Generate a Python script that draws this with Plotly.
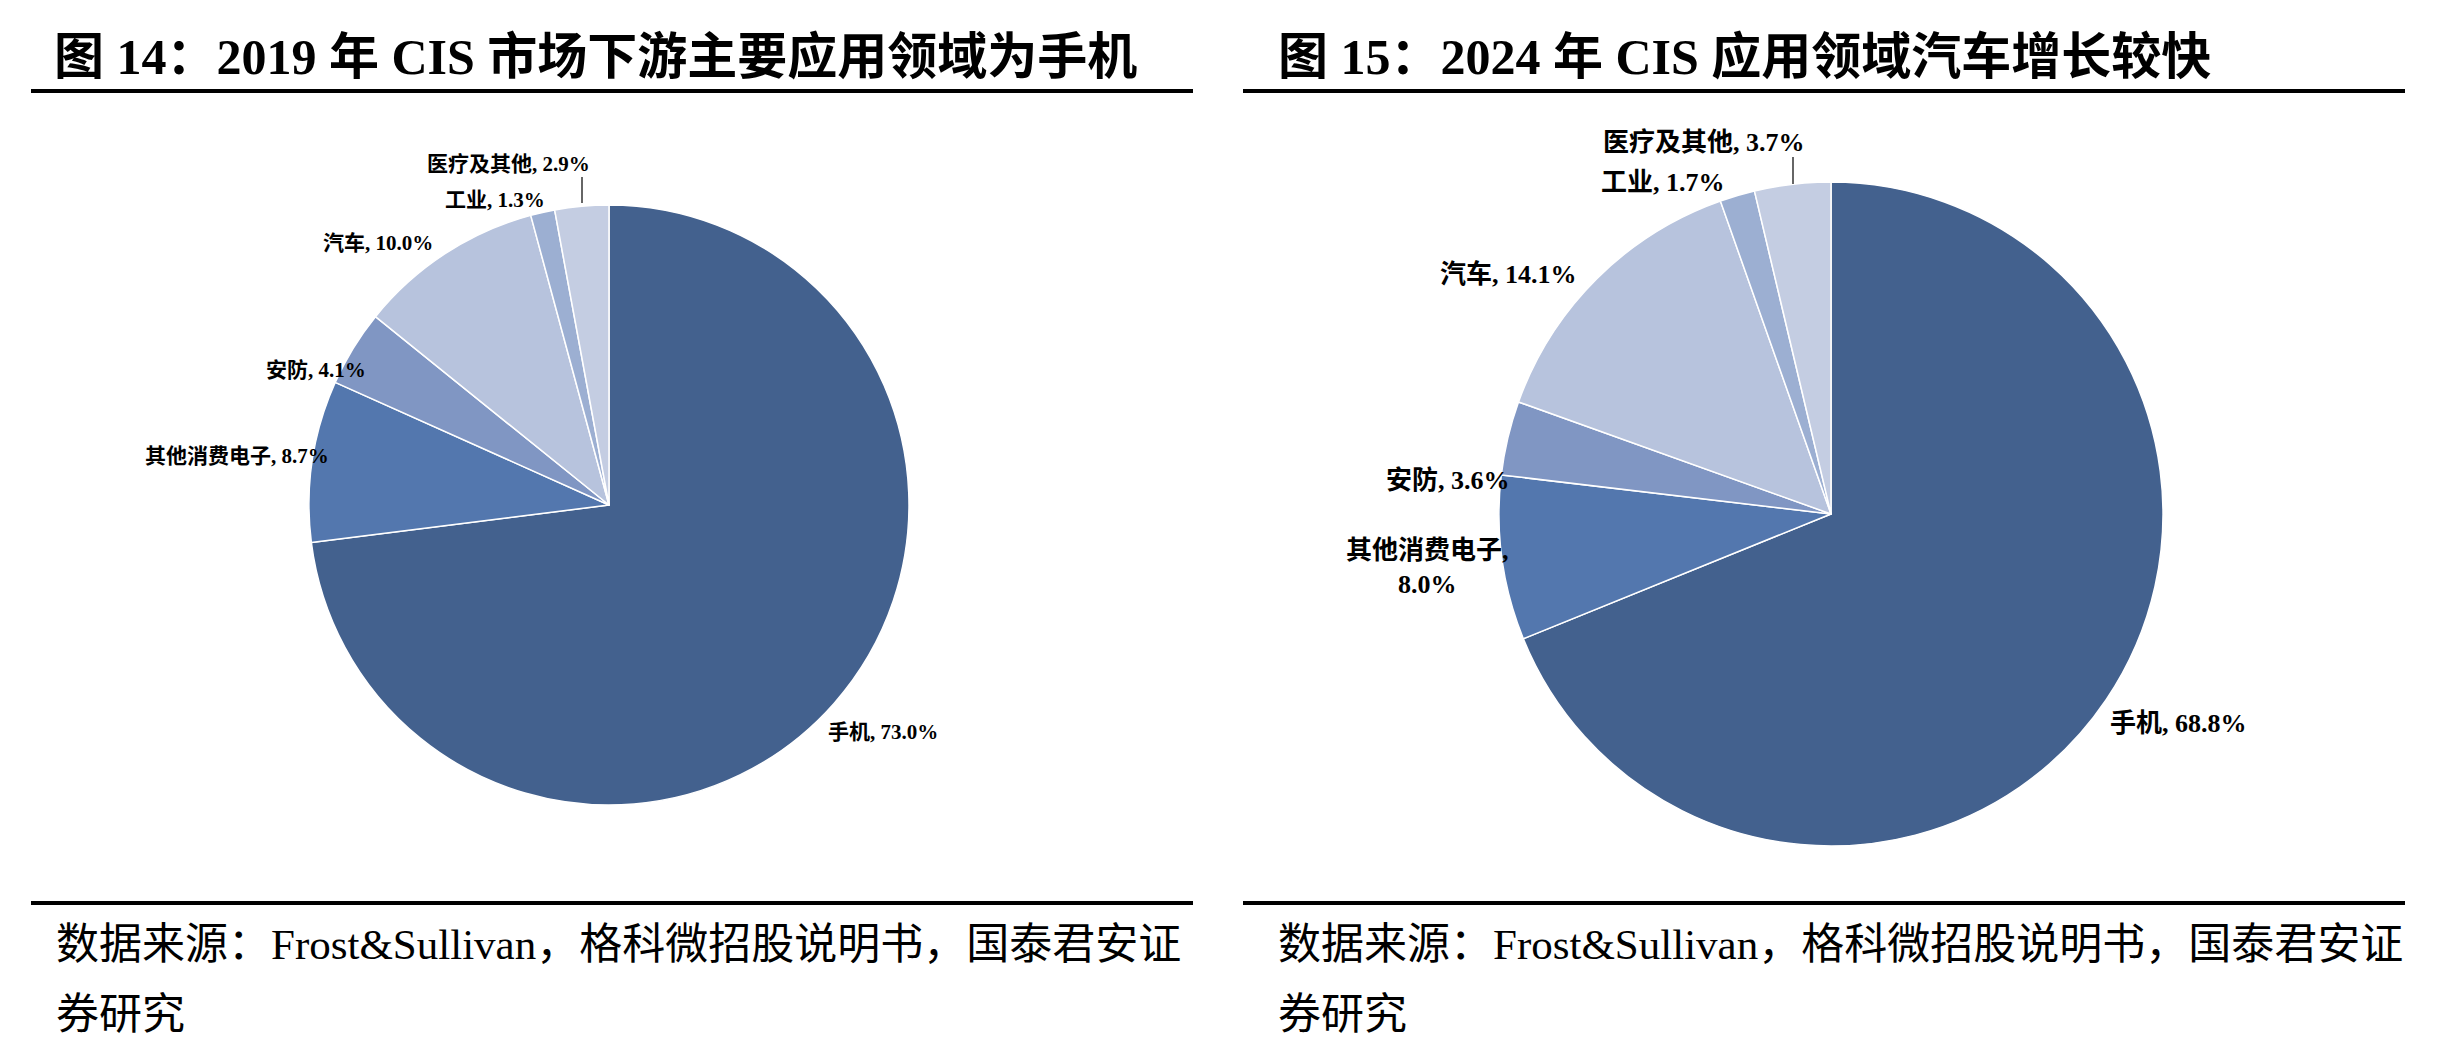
import plotly.graph_objects as go

W, H = 2439, 1055

# ---------------- data ----------------
categories = ["手机", "其他消费电子", "安防", "汽车", "工业", "医疗及其他"]
share_2019 = [73.0, 8.7, 4.1, 10.0, 1.3, 2.9]
share_2024 = [68.8, 8.0, 3.6, 14.1, 1.7, 3.7]

title_left = "图 14：2019 年 CIS 市场下游主要应用领域为手机"
title_right = "图 15：2024 年 CIS 应用领域汽车增长较快"
source_line1 = "数据来源：Frost&Sullivan，格科微招股说明书，国泰君安证"
source_line2 = "券研究"

# ---------------- styling ----------------
slice_colors = ["#43618e", "#5377ae", "#8096c3", "#b7c3dd", "#9cafd2", "#c4cde2"]
SERIF = "Liberation Serif, Noto Sans CJK SC, serif"


def xp(x):
    return x / W


def yp(y):
    return 1 - y / H


def pie_domain(cx, cy, r):
    return dict(x=[xp(cx - r), xp(cx + r)], y=[yp(cy + r), yp(cy - r)])


fig = go.Figure()

fig.add_trace(go.Pie(
    labels=categories, values=share_2019, sort=False, direction="clockwise",
    rotation=0, textinfo="none", hoverinfo="skip", showlegend=False,
    marker=dict(colors=slice_colors, line=dict(color="white", width=1.5)),
    domain=pie_domain(609, 505, 300),
))
fig.add_trace(go.Pie(
    labels=categories, values=share_2024, sort=False, direction="clockwise",
    rotation=0, textinfo="none", hoverinfo="skip", showlegend=False,
    marker=dict(colors=slice_colors, line=dict(color="white", width=1.5)),
    domain=pie_domain(1831, 514, 332),
))

annotations = []

# titles
annotations.append(dict(x=xp(52), y=yp(57), xref="paper", yref="paper",
                        text=title_left, showarrow=False, xanchor="left", yanchor="middle",
                        font=dict(family=SERIF, size=50, color="black", weight="bold")))
annotations.append(dict(x=xp(1276), y=yp(57), xref="paper", yref="paper",
                        text=title_right, showarrow=False, xanchor="left", yanchor="middle",
                        font=dict(family=SERIF, size=50, color="black", weight="bold")))

# sources
for x0 in (54, 1276):
    annotations.append(dict(x=xp(x0), y=yp(944), xref="paper", yref="paper",
                            text=source_line1, showarrow=False, xanchor="left", yanchor="middle",
                            font=dict(family=SERIF, size=43, color="black")))
    annotations.append(dict(x=xp(x0), y=yp(1014), xref="paper", yref="paper",
                            text=source_line2, showarrow=False, xanchor="left", yanchor="middle",
                            font=dict(family=SERIF, size=43, color="black")))

# slice labels (positions in pixels)
label_pos_left = [(883, 732), (237, 456), (316, 370), (378, 243), (495, 200), (508, 164)]
label_pos_right = [(2178, 723), (1427, 567), (1448, 480), (1509, 274), (1663, 182), (1704, 143)]

for i, (cat, v) in enumerate(zip(categories, share_2019)):
    x, y = label_pos_left[i]
    annotations.append(dict(x=xp(x), y=yp(y), xref="paper", yref="paper",
                            text=f"{cat}, {v:.1f}%", showarrow=False,
                            xanchor="center", yanchor="middle",
                            font=dict(family=SERIF, size=21, color="black", weight="bold")))

for i, (cat, v) in enumerate(zip(categories, share_2024)):
    x, y = label_pos_right[i]
    sep = ",<br>" if cat == "其他消费电子" else ", "
    annotations.append(dict(x=xp(x), y=yp(y), xref="paper", yref="paper",
                            text=f"{cat}{sep}{v:.1f}%", showarrow=False,
                            xanchor="center", yanchor="middle", align="center",
                            font=dict(family=SERIF, size=26, color="black", weight="bold")))

shapes = []
# rules
for (x0, x1) in ((31, 1193), (1243, 2405)):
    for y in (91, 903):
        shapes.append(dict(type="line", xref="paper", yref="paper",
                           x0=xp(x0), x1=xp(x1), y0=yp(y), y1=yp(y),
                           line=dict(color="black", width=4)))
# leader lines
shapes.append(dict(type="line", xref="paper", yref="paper",
                   x0=xp(582), x1=xp(582), y0=yp(177), y1=yp(203),
                   line=dict(color="#333333", width=1.5)))
shapes.append(dict(type="line", xref="paper", yref="paper",
                   x0=xp(1793), x1=xp(1793), y0=yp(157), y1=yp(184),
                   line=dict(color="#333333", width=1.5)))

fig.update_layout(
    width=W, height=H,
    margin=dict(l=0, r=0, t=0, b=0),
    paper_bgcolor="white", plot_bgcolor="white",
    annotations=annotations, shapes=shapes,
)

fig.write_html("out.html", config={"displayModeBar": False})
